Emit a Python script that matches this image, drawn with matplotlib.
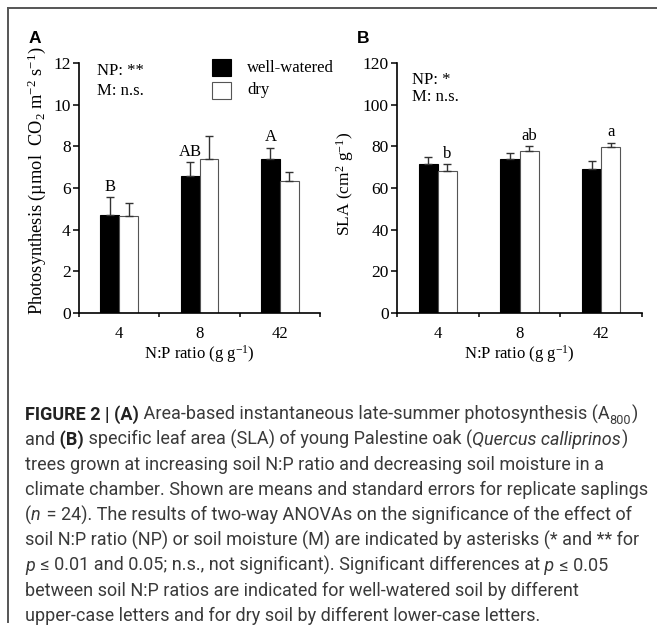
import matplotlib
matplotlib.use('Agg')
import matplotlib.pyplot as plt
import numpy as np
from matplotlib.lines import Line2D
from matplotlib.patches import Rectangle

# values (means and upward standard errors)
ratios = ['4', '8', '42']
photo_wet = [4.70, 6.58, 7.39]
photo_wet_se = [0.87, 0.65, 0.55]
photo_dry = [4.67, 7.39, 6.34]
photo_dry_se = [0.60, 1.10, 0.42]
sla_wet = [71.5, 73.9, 69.3]
sla_wet_se = [3.2, 2.9, 3.7]
sla_dry = [68.2, 77.8, 79.9]
sla_dry_se = [3.2, 2.2, 1.9]
photo_letters = ['B', 'AB', 'A']   # well-watered
sla_letters = ['b', 'ab', 'a']     # dry

# caption lines as (text, style) runs; r = regular, b = bold, i = italic, s = subscript
caption = [
    [('FIGURE 2 | (A)', 'b'), (' Area-based instantaneous late-summer photosynthesis (A', 'r'),
     ('800', 's'), (')', 'r')],
    [('and', 'r'), (' (B)', 'b'), (' specific leaf area (SLA) of young Palestine oak (', 'r'),
     ('Quercus calliprinos', 'i'), (')', 'r')],
    [('trees grown at increasing soil N:P ratio and decreasing soil moisture in a', 'r')],
    [('climate chamber. Shown are means and standard errors for replicate saplings', 'r')],
    [('(', 'r'), ('n', 'i'), (' = 24). The results of two-way ANOVAs on the significance of the effect of', 'r')],
    [('soil N:P ratio (NP) or soil moisture (M) are indicated by asterisks (* and ** for', 'r')],
    [('p', 'i'), (' ≤ 0.01 and 0.05; n.s., not significant). Significant differences at', 'r'),
     (' p', 'i'), (' ≤ 0.05', 'r')],
    [('between soil N:P ratios are indicated for well-watered soil by different', 'r')],
    [('upper-case letters and for dry soil by different lower-case letters.', 'r')],
]

plt.rcParams['font.family'] = ['Liberation Serif', 'DejaVu Serif']

W, H = 657, 631
fig = plt.figure(figsize=(W / 100, H / 100), dpi=100)


def px_axes(l, t, r, b):
    return fig.add_axes([l / W, 1 - b / H, (r - l) / W, (b - t) / H])


FS = 12
err_kw = dict(ecolor='#333333', elinewidth=1, capsize=3, capthick=1)


def panel(ax, wet, wet_se, dry, dry_se, ymax, step, letters, on_wet):
    x = np.arange(len(ratios)) + 0.5
    w = 0.235
    zero = np.zeros(len(x))
    ax.bar(x - w / 2, wet, w, color='black', edgecolor='black', lw=0.8,
           yerr=[zero, wet_se], error_kw=err_kw)
    ax.bar(x + w / 2, dry, w, color='white', edgecolor='#555555', lw=0.8,
           yerr=[zero, dry_se], error_kw=err_kw)
    if on_wet:
        lx, ly = x - w / 2, np.add(wet, wet_se)
    else:
        lx, ly = x + w / 2, np.add(dry, dry_se)
    for xi, yi, s in zip(lx, ly, letters):
        ax.annotate(s, (xi, yi), xytext=(0, 7.5), textcoords='offset points',
                    ha='center', va='center', fontsize=FS)
    ax.set_xlim(0, 3)
    ax.set_ylim(0, ymax)
    ax.set_yticks(np.arange(0, ymax + 1, step))
    ax.set_xticks([0, 1, 2, 3])
    ax.set_xticklabels([])
    ax.set_xticks(x, minor=True)
    ax.set_xticklabels(ratios, minor=True)
    ax.tick_params(axis='x', which='major', length=3, width=1.1, direction='out')
    ax.tick_params(axis='x', which='minor', length=0, pad=9, labelsize=FS)
    ax.tick_params(axis='y', length=4.5, width=1.1, pad=1.5, labelsize=FS + 0.5)
    for s in ['top', 'right']:
        ax.spines[s].set_visible(False)
    for s in ['left', 'bottom']:
        ax.spines[s].set_linewidth(1.2)
    ax.set_xlabel(r'N:P ratio (g g$\mathregular{^{-1}}$)', fontsize=FS)
    ax.xaxis.set_label_coords(0.5, -0.122)


axA = px_axes(79, 63, 320, 313)
axB = px_axes(397, 63, 642, 313)

panel(axA, photo_wet, photo_wet_se, photo_dry, photo_dry_se, 12, 2, photo_letters, True)
panel(axB, sla_wet, sla_wet_se, sla_dry, sla_dry_se, 120, 20, sla_letters, False)

axA.set_ylabel(r'Photosynthesis (µmol  CO$\mathregular{_2}$ m$\mathregular{^{-2}}$ s$\mathregular{^{-1}}$)',
               fontsize=13.2, va='center')
axA.yaxis.set_label_coords(-0.174, 0.530)
axB.set_ylabel(r'SLA (cm$\mathregular{^2}$ g$\mathregular{^{-1}}$)', fontsize=12.5, va='center')
axB.yaxis.set_label_coords(-0.21, 0.516)

# ANOVA notes
axA.text(0.075, 0.968, 'NP: **', transform=axA.transAxes, va='center', fontsize=FS)
axA.text(0.075, 0.888, 'M: n.s.', transform=axA.transAxes, va='center', fontsize=FS)
axB.text(0.061, 0.932, 'NP: *', transform=axB.transAxes, va='center', fontsize=FS)
axB.text(0.061, 0.864, 'M: n.s.', transform=axB.transAxes, va='center', fontsize=FS)

# legend keys
axA.add_patch(Rectangle((0.552, 0.948), 0.079, 0.068, transform=axA.transAxes,
                        fc='black', ec='black', lw=0.8, clip_on=False))
axA.add_patch(Rectangle((0.552, 0.856), 0.079, 0.068, transform=axA.transAxes,
                        fc='white', ec='#555555', lw=0.8, clip_on=False))
axA.text(0.697, 0.98, 'well-watered', transform=axA.transAxes, va='center', fontsize=FS)
axA.text(0.697, 0.892, 'dry', transform=axA.transAxes, va='center', fontsize=FS)

# panel letters
for lbl, xp in [('A', 29), ('B', 357)]:
    fig.text(xp / W, 1 - 43 / H, lbl, family='Liberation Sans', weight='bold',
             fontsize=12.5, va='baseline')

# caption, laid out run by run
renderer = fig.canvas.get_renderer()
CFS = 13.0
for i, runs in enumerate(caption):
    x = 25.0
    base = 420 + i * 25.1
    for txt, st in runs:
        kw = dict(family=['Roboto', 'DejaVu Sans'], fontsize=CFS, color='#3a3a3a', va='baseline')
        y = base
        if st == 'b':
            kw.update(weight='bold', color='#222222')
        elif st == 'i':
            kw.update(style='italic')
        elif st == 's':
            kw.update(fontsize=CFS * 0.7)
            y = base + 3.5
        t = fig.text(x / W, 1 - y / H, txt, **kw)
        x += t.get_window_extent(renderer).width + (1.0 if st in ('i', 's') else 0.0)

# frame lines
fig.add_artist(Line2D([8 / W, 1], [1 - 8 / H] * 2, transform=fig.transFigure,
                      color='#555555', lw=1.4))
fig.add_artist(Line2D([8 / W] * 2, [1 - 8 / H, 1 - 622 / H], transform=fig.transFigure,
                      color='#555555', lw=1.4))

fig.savefig('out.png', dpi=100)
